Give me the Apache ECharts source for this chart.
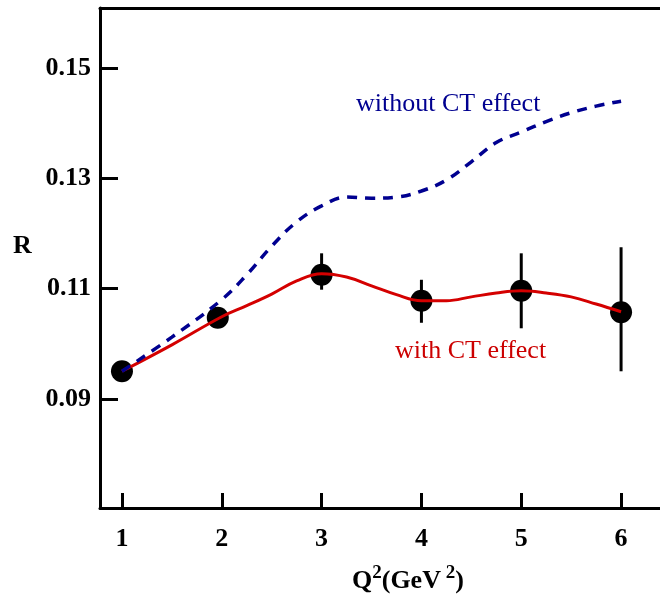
<!DOCTYPE html>
<html>
<head>
<meta charset="utf-8">
<script src="https://cdn.jsdelivr.net/npm/echarts@6/dist/echarts.min.js"></script>
<style>html,body{margin:0;padding:0;background:#fff;}#c{width:660px;height:601px;}</style>
</head>
<body>
<div id="c"></div>
<script>
// ---- data ----
const curveX = [1, 1.5, 2, 2.25, 2.5, 2.75, 3, 3.25, 3.5, 3.75, 4, 4.25, 4.5, 4.75, 5, 5.25, 5.5, 5.75, 6];
const withCT = [0.0950, 0.0998, 0.1049, 0.1069, 0.1090, 0.1114, 0.1127, 0.1121, 0.1105, 0.1089, 0.1078, 0.1078, 0.1085, 0.1092, 0.1096, 0.1092, 0.1085, 0.1072, 0.1058];
const withoutCT = [0.0950, 0.1012, 0.1080, 0.1125, 0.1177, 0.1221, 0.1250, 0.1266, 0.1264, 0.1266, 0.1277, 0.1297, 0.1330, 0.1365, 0.1384, 0.1403, 0.1419, 0.1431, 0.1440];
const dataQ2 = [1, 1.96, 3, 4, 5, 6];
const dataR = [0.0950, 0.1047, 0.1125, 0.1078, 0.1096, 0.1057];
const errLow = [null, null, 0.1098, 0.1038, 0.1028, 0.0950];
const errHigh = [null, null, 0.1164, 0.1116, 0.1164, 0.1175];
const yTickLabels = ['0.09', '0.11', '0.13', '0.15'];
const xTickLabels = ['1', '2', '3', '4', '5', '6'];

const serif = '"Liberation Serif", "Times New Roman", serif';
const chart = echarts.init(document.getElementById('c'));
const errData = dataQ2.map((x, i) => [x, errLow[i], errHigh[i]]).filter(d => d[1] !== null);
const xTickVals = xTickLabels.map(Number);
const yTickVals = yTickLabels.map(Number);

chart.setOption({
  animation: false,
  backgroundColor: '#fff',
  grid: { left: 100, top: 8, bottom: 93, right: 0 },
  xAxis: [{
    type: 'value', min: 0.78, max: 6.39,
    axisLine: { onZero: false, lineStyle: { color: '#000', width: 3 } },
    axisTick: { inside: true, length: 15, lineStyle: { color: '#000', width: 3 }, customValues: xTickVals },
    splitLine: { show: false },
    axisLabel: {
      margin: 18, color: '#000', fontFamily: serif, fontWeight: 'bold', fontSize: 26,
      customValues: xTickVals,
      formatter: v => String(Math.round(v))
    }
  }, {
    type: 'value', position: 'top', min: 0.78, max: 6.39,
    axisLine: { onZero: false, lineStyle: { color: '#000', width: 3 } },
    axisTick: { show: false }, axisLabel: { show: false }, splitLine: { show: false }
  }],
  yAxis: {
    type: 'value', min: 0.0702, max: 0.1609,
    axisLine: { onZero: false, lineStyle: { color: '#000', width: 3 } },
    axisTick: { inside: true, length: 18, lineStyle: { color: '#000', width: 3 }, customValues: yTickVals },
    splitLine: { show: false },
    axisLabel: {
      margin: 9, color: '#000', fontFamily: serif, fontWeight: 'bold', fontSize: 26,
      customValues: yTickVals,
      formatter: v => v.toFixed(2)
    }
  },
  series: [
    {
      type: 'custom', z: 2,
      renderItem: (params, api) => {
        const a = api.coord([api.value(0), api.value(1)]);
        const b = api.coord([api.value(0), api.value(2)]);
        return { type: 'line', shape: { x1: a[0], y1: a[1], x2: b[0], y2: b[1] }, style: { stroke: '#000', lineWidth: 3 } };
      },
      data: errData
    },
    {
      type: 'scatter', z: 3, symbol: 'circle', symbolSize: 22,
      itemStyle: { color: '#000', opacity: 1 },
      data: dataQ2.map((x, i) => [x, dataR[i]])
    },
    {
      type: 'line', z: 4, smooth: 0.4, showSymbol: false,
      lineStyle: { color: '#d40000', width: 3 },
      data: curveX.map((x, i) => [x, withCT[i]])
    },
    {
      type: 'line', z: 5, smooth: 0.4, showSymbol: false,
      lineStyle: { color: '#000090', width: 3.5, type: [10, 8] },
      data: curveX.map((x, i) => [x, withoutCT[i]])
    }
  ],
  graphic: [
    { type: 'text', left: 356, top: 91, style: { text: 'without CT effect', font: '26px ' + serif, fill: '#000090' } },
    { type: 'text', left: 395, top: 338, style: { text: 'with CT effect', font: '26px ' + serif, fill: '#cc0000' } },
    { type: 'text', left: 13, top: 233, style: { text: 'R', font: 'bold 26px ' + serif, fill: '#000' } },
    { type: 'text', left: 352, top: 564, style: {
        text: '{b|Q}{s|2}{b|(GeV}{s| 2}{b|)}',
        rich: {
          b: { font: 'bold 26px ' + serif, fill: '#000', color: '#000' },
          s: { font: 'bold 19px ' + serif, fill: '#000', color: '#000', padding: [0, 0, 16, 0] }
        }
    } }
  ]
});
</script>
</body>
</html>
